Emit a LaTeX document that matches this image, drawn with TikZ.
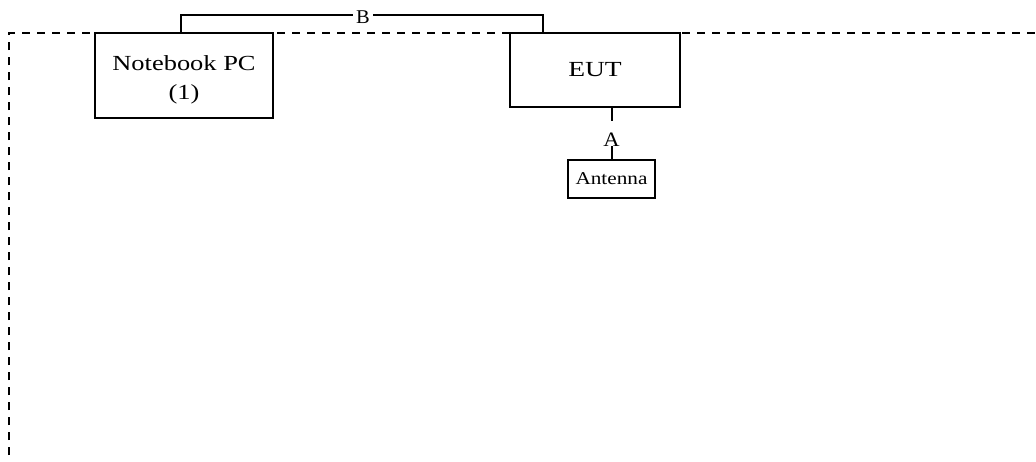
\documentclass[tikz,border=0pt]{standalone}
\usepackage{fontspec}
\setmainfont{Liberation Serif}
\newcommand{\wx}[2][1.25]{\scalebox{#1}[1]{#2}}
\begin{document}
\begin{tikzpicture}[x=1pt,y=-1pt,
  box/.style={draw=black, line width=2pt, fill=white, inner sep=0pt, align=center},
  conn/.style={draw=black, line width=2pt},
  frame/.style={draw=black, line width=1.2pt, dash pattern=on 8pt off 7pt},
  lbl/.style={inner sep=0pt, text depth=0pt}]
\useasboundingbox (0,0) rectangle (1036,461);
% dashed enclosure
\draw[frame] (9,470) -- (9,33) -- (1045,33);
% boxes
\node[box, minimum width=178pt, minimum height=85pt] (nb) at (184,75.5)
  {\raisebox{-4pt}[\height][\depth]{\fontsize{21.5}{29}\selectfont\wx[1.23]{\begin{tabular}{@{}c@{}}Notebook PC\\[0pt](1)\end{tabular}}}};
\node[box, minimum width=170pt, minimum height=74pt] (eut) at (595,70)
  {\fontsize{21.5}{25}\selectfont\wx[1.28]{EUT}};
\node[box, minimum width=87pt, minimum height=38pt] (ant) at (611.5,179)
  {\fontsize{18}{20}\selectfont\wx[1.18]{Antenna}};
% labels
\node[lbl, anchor=base, inner xsep=3pt, font=\fontsize{19.5}{21}\selectfont] (B) at (363,23) {\wx[1.05]{B}};
\node[lbl, anchor=base, text height=25pt, font=\fontsize{20.5}{24}\selectfont] (A) at (611.5,146) {\wx[1.1]{A}};
% connectors
\draw[conn, line width=1.6pt] ([xshift=-3pt]nb.north) |- ([yshift=1.5pt]B.west);
\draw[conn, line width=1.6pt] ([yshift=1.5pt]B.east) -| ([xshift=-52pt]eut.north);
\draw[conn] (eut.south -| A.north) -- (A.north);
\draw[conn] (A.south) -- (ant.north);
\end{tikzpicture}
\end{document}
